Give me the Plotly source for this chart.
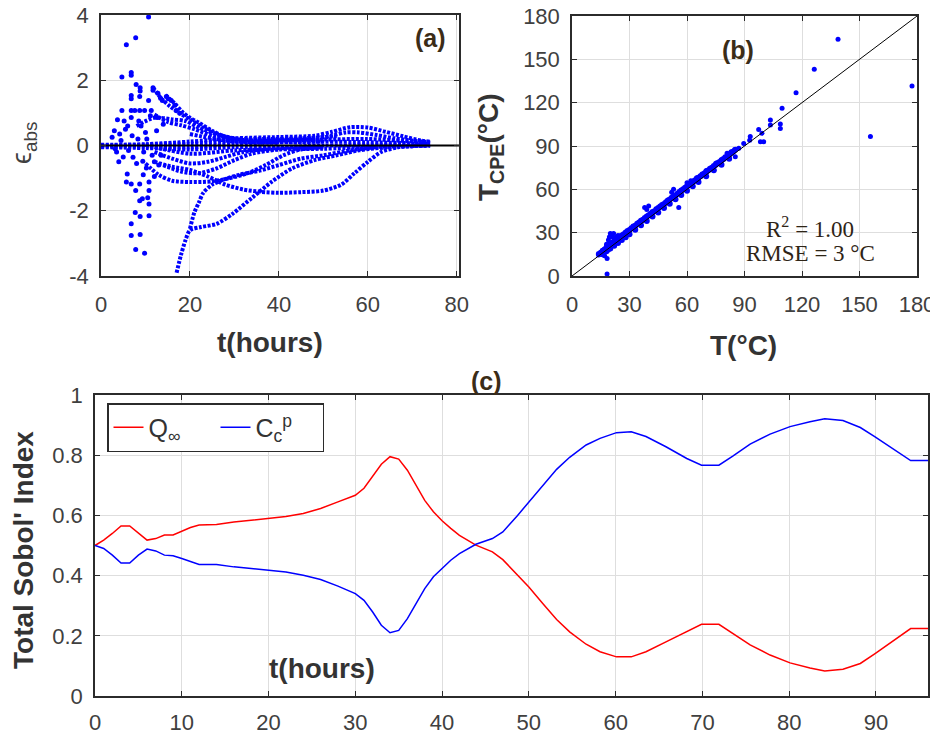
import plotly.graph_objects as go

# ---------------- data: panel (a) ----------------
early_t = [10.7, 5.7, 7.8, 4.7, 6.8, 6.8, 7.9, 8.8, 8.8, 6.8, 6.8, 8.7, 11.7, 11.7, 12.8, 10.7, 13.4, 13.8,
           14.7, 15.1, 15.8, 16.6, 16.9, 17.7, 4.7, 6.8, 7.6, 8.7, 3.7, 6.8, 9.8, 11.3, 11.1, 12.6,
           5.9, 5.7, 6.8, 8.7, 7.8, 10.8, 10.8, 10.8, 10.8, 9.3, 8.7, 7.7, 8.8, 6.8, 6.8, 8.8, 7.8, 9.8,
           10.5, 7.2, 9.4, 10.2, 2.5, 3.0, 3.5, 4.2, 5.0, 5.5, 6.2, 7.0, 8.0, 9.0, 10.0, 11.5, 12.5,
           4.0, 5.2, 9.5, 13.0, 14.0, 3.2, 4.5, 6.0, 8.3, 9.6, 12.0, 12.0, 13.5, 8.5, 10.3]
early_e = [3.94, 3.09, 3.30, 2.10, 2.24, 2.15, 1.87, 1.77, 1.67, 1.53, 1.43, 1.50, 1.77, 1.69, 1.60, 1.38, 1.45, 1.38,
           1.50, 1.43, 1.38, 1.23, 1.07, 0.99, 1.07, 1.07, 1.07, 1.07, 0.79, 0.86, 1.07, 1.07, 0.91, 0.86,
           -0.87, -1.12, -1.18, -1.18, -1.38, -1.12, -1.38, -1.79, -2.15, -1.63, -1.69, -2.05, -2.18, -2.40, -2.76, -2.73, -3.19, -3.30,
           -1.60, -0.36, -0.48, -0.69, 0.25, 0.45, -0.20, 0.35, -0.35, 0.50, -0.15, 0.30, -0.55, 0.60, 0.40, -0.30, 0.45,
           -0.50, 0.75, -0.90, -0.60, 0.65, -0.10, 0.15, 0.60, 0.20, -0.20, -0.95, -0.50, -0.30, 0.75, 0.20]

U1_t = [11.7, 13.5, 15.5, 17.8, 20, 23, 26, 30, 35, 45, 53]
U1_e = [1.78, 1.45, 1.2, 0.98, 0.8, 0.55, 0.35, 0.22, 0.2, 0.22, 0.28]
U2_t = [14.5, 16.5, 18.5, 20, 22, 25, 28, 32, 40, 48]
U2_e = [1.55, 1.3, 1.0, 0.85, 0.7, 0.45, 0.27, 0.17, 0.16, 0.2]
U3_t = [12, 15, 18, 21, 25, 30, 40, 50]
U3_e = [0.95, 0.72, 0.62, 0.5, 0.3, 0.15, 0.1, 0.12]
U4_t = [8, 12, 16, 19, 22, 27, 32, 40]
U4_e = [0.6, 0.85, 0.8, 0.75, 0.55, 0.3, 0.12, 0.08]

H1_t = [0, 10, 20, 30, 40, 48, 52, 56, 60, 64, 68, 72, 74]
H1_e = [0.02, 0.04, 0.12, 0.22, 0.26, 0.3, 0.42, 0.56, 0.55, 0.42, 0.28, 0.15, 0.12]
H2_t = [0, 10, 20, 30, 40, 48, 52, 55, 58, 62, 66, 70, 74]
H2_e = [0.0, 0.02, 0.05, 0.15, 0.2, 0.22, 0.3, 0.4, 0.4, 0.32, 0.22, 0.15, 0.1]
Z2_t = [0, 10, 20, 30, 40, 50, 60, 70, 74]
Z2_e = [-0.02, -0.04, -0.06, 0.05, 0.1, 0.12, 0.1, 0.07, 0.05]
Z3_t = [0, 10, 20, 30, 40, 50, 60, 70, 74]
Z3_e = [-0.05, -0.08, -0.12, -0.05, -0.05, 0.0, 0.0, 0.02, 0.02]
Z4_t = [10, 20, 30, 40, 50, 60, 70, 74]
Z4_e = [0.02, -0.25, -0.15, -0.12, -0.1, -0.05, -0.02, 0.0]
Z5_t = [20, 30, 40, 50, 60, 70, 74]
Z5_e = [0.35, 0.12, 0.15, 0.18, 0.2, 0.12, 0.08]

D_t = [12, 16, 20, 24, 28, 32, 36, 40, 45, 50, 54, 57, 60, 63, 67, 74]
D_e = [-0.5, -0.65, -0.75, -0.95, -1.2, -1.35, -1.42, -1.45, -1.43, -1.38, -1.2, -0.85, -0.5, -0.2, -0.05, 0.0]
F_t = [10, 13, 16, 20, 25, 29, 33, 37, 41, 45, 50]
F_e = [-0.55, -0.9, -1.08, -1.12, -1.1, -1.0, -0.85, -0.6, -0.3, -0.12, -0.05]
L3_t = [17, 18, 19, 20, 22.5, 26, 29.5, 34, 38.5, 43, 48, 53, 58, 65, 74]
L3_e = [-3.9, -3.35, -2.9, -2.6, -2.5, -2.4, -2.1, -1.6, -1.1, -0.7, -0.45, -0.3, -0.15, -0.05, 0.0]
L4_t = [20, 21, 22, 23, 25, 27.5, 31, 35.7, 40, 45, 50, 56, 62]
L4_e = [-2.55, -2.05, -1.75, -1.45, -1.2, -1.05, -0.9, -0.77, -0.6, -0.4, -0.3, -0.15, -0.05]
L5_t = [12, 16, 20, 24, 28, 32, 38, 45]
L5_e = [-0.2, -0.4, -0.55, -0.5, -0.35, -0.2, -0.1, -0.05]
L6_t = [14, 18, 22, 26, 30, 34, 40, 50]
L6_e = [-0.6, -0.8, -0.85, -0.7, -0.45, -0.25, -0.12, -0.05]

a_curves = [(U1_t, U1_e), (U2_t, U2_e), (U3_t, U3_e), (U4_t, U4_e), (H1_t, H1_e), (H2_t, H2_e),
            (Z2_t, Z2_e), (Z3_t, Z3_e), (Z4_t, Z4_e), (Z5_t, Z5_e), (D_t, D_e), (F_t, F_e),
            (L3_t, L3_e), (L4_t, L4_e), (L5_t, L5_e), (L6_t, L6_e)]
zero_t = [0, 80.5]
zero_e = [0, 0]

# ---------------- data: panel (b) ----------------
band_T = [14, 15, 16, 17, 18, 19, 20, 21, 22, 23, 24, 25, 26, 27, 28, 29, 30, 31, 32, 33, 34, 35, 36, 37,
          38, 39, 40, 41, 42, 43, 44, 45, 46, 47, 48, 49, 50, 51, 52, 53, 54, 55, 56, 57, 58, 59, 60, 61,
          62, 63, 64, 65, 66, 67, 68, 69, 70, 71, 72, 73, 74, 75, 76, 77, 78, 79, 80, 81, 82, 83, 84, 85]
band_C = [15.2, 16.1, 17.5, 18.3, 19.8, 21.0, 22.4, 23.1, 24.0, 25.2, 25.8, 27.1, 28.0, 28.9, 30.2, 31.1,
          31.8, 33.0, 34.2, 34.8, 36.1, 37.0, 38.2, 38.9, 40.1, 41.2, 42.0, 43.1, 44.3, 44.9, 46.2, 47.0,
          48.1, 49.2, 49.8, 51.1, 52.2, 53.0, 54.1, 55.2, 55.8, 57.0, 58.1, 59.2, 60.0, 61.1, 62.2, 63.0,
          64.1, 65.0, 66.2, 66.9, 68.1, 69.0, 70.2, 71.0, 72.1, 73.0, 74.2, 75.0, 76.1, 77.0, 78.2, 78.9,
          80.1, 81.0, 82.2, 82.8, 84.0, 85.1, 86.0, 87.2]
band2_T = [16, 18, 20, 22, 24, 26, 28, 30, 33, 36, 39, 42, 45, 48, 51, 54, 57, 60, 63, 66, 70, 74, 78, 82]
band2_C = [15.0, 17.2, 19.1, 21.0, 22.8, 24.9, 26.8, 28.9, 32.0, 35.1, 38.0, 41.2, 44.0, 47.1, 50.0, 53.2,
           56.1, 59.0, 62.2, 65.1, 69.0, 73.2, 77.0, 81.1]
out_T = [18, 19, 19.5, 20, 20.9, 21.7, 22, 23, 23.5, 24, 25, 19, 18, 17, 18.3, 18.3, 13.9, 15, 16,
         37.9, 40, 39, 55.7, 53, 52, 60, 62, 65, 70, 75, 78, 80.9, 85.2, 85.2, 83, 87, 89.6, 92.7, 93,
         97.4, 99.1, 98.3, 100, 103.5, 103.5, 108.7, 108.7, 109.6, 116.9, 126.4, 138.8, 155.7, 177.4]
out_C = [22, 25, 27, 29.5, 27.2, 29.5, 26, 27, 26, 28, 27.5, 18, 20, 14, 12.2, 1.4, 14.5, 16, 15,
         47.5, 48.5, 46, 47.5, 60, 58, 64.6, 66, 68, 73, 78, 80.5, 84.9, 87.7, 82.6, 86, 88.5, 91.8, 94, 96.5,
         101.5, 98.8, 93, 93, 104.5, 108, 105.2, 102.2, 116.1, 126.9, 143.1, 163.9, 96.5, 131.5]
diag = [0, 180]

# ---------------- data: panel (c) ----------------
c_t = [0, 1, 2, 3, 4, 5, 6, 7, 8, 9, 10, 11, 12, 14, 16, 18, 20, 22, 24, 26, 28, 30, 31, 32, 33, 34, 35,
       36, 37, 38, 39, 40, 41, 42, 43.9, 45.8, 47, 48.7, 50, 51.6, 53.2, 54.7, 56.6, 58.2, 60.1, 61.8,
       63.5, 65.8, 68.2, 69.9, 71.9, 73.5, 75.5, 77.8, 80.1, 82.4, 84.1, 86.2, 88.2, 89.9, 92, 94, 96]
q_inf = [0.5, 0.518, 0.54, 0.565, 0.565, 0.54, 0.518, 0.523, 0.535, 0.535, 0.548, 0.56, 0.568, 0.57,
         0.578, 0.584, 0.588, 0.596, 0.606, 0.623, 0.645, 0.667, 0.69, 0.728, 0.77, 0.795, 0.787, 0.75,
         0.70, 0.65, 0.612, 0.582, 0.557, 0.534, 0.501, 0.479, 0.453, 0.401, 0.362, 0.307, 0.254, 0.213,
         0.172, 0.147, 0.13, 0.13, 0.147, 0.18, 0.213, 0.238, 0.238, 0.208, 0.17, 0.136, 0.11, 0.093,
         0.083, 0.089, 0.108, 0.141, 0.183, 0.224, 0.224]
c_cp = [0.5, 0.49, 0.468, 0.442, 0.442, 0.468, 0.488, 0.482, 0.468, 0.466, 0.457, 0.446, 0.437, 0.437,
        0.429, 0.424, 0.418, 0.412, 0.401, 0.387, 0.365, 0.34, 0.318, 0.279, 0.235, 0.21, 0.218, 0.257,
        0.307, 0.357, 0.396, 0.424, 0.451, 0.473, 0.504, 0.523, 0.545, 0.6, 0.645, 0.7, 0.753, 0.793,
        0.834, 0.856, 0.875, 0.878, 0.862, 0.828, 0.789, 0.767, 0.767, 0.797, 0.837, 0.87, 0.895, 0.911,
        0.921, 0.915, 0.892, 0.861, 0.819, 0.782, 0.782]

a_xticks = [0, 20, 40, 60, 80]
a_yticks = [-4, -2, 0, 2, 4]
a_ytext = ["-4", "-2", "0", "2", "4"]
b_ticks = [0, 30, 60, 90, 120, 150, 180]
c_xticks = [0, 10, 20, 30, 40, 50, 60, 70, 80, 90]
c_yticks = [0, 0.2, 0.4, 0.6, 0.8, 1]

# ---------------- figure ----------------
# the page has an 8px body margin, so the figure is 8px smaller and offset
OFF = 8
W, H = 938 - OFF, 736 - OFF
def px(x):
    return (x - OFF) / W
def py(y):
    return 1 - (y - OFF) / H

BLUE = "#0000ff"
fig = go.Figure()

for tt, ee in a_curves:
    fig.add_trace(go.Scatter(x=tt, y=ee, mode="lines", xaxis="x", yaxis="y", showlegend=False,
                             line=dict(color=BLUE, width=4, dash="3px,1.5px", shape="spline", smoothing=0.8)))
fig.add_trace(go.Scatter(x=early_t, y=early_e, mode="markers", xaxis="x", yaxis="y", showlegend=False,
                         marker=dict(color=BLUE, size=5)))
fig.add_trace(go.Scatter(x=zero_t, y=zero_e, mode="lines", xaxis="x", yaxis="y", showlegend=False,
                         line=dict(color="black", width=2)))

fig.add_trace(go.Scatter(x=band_T, y=band_C, mode="markers", xaxis="x2", yaxis="y2", showlegend=False,
                         marker=dict(color=BLUE, size=6)))
fig.add_trace(go.Scatter(x=band2_T, y=band2_C, mode="markers", xaxis="x2", yaxis="y2", showlegend=False,
                         marker=dict(color=BLUE, size=6)))
fig.add_trace(go.Scatter(x=out_T, y=out_C, mode="markers", xaxis="x2", yaxis="y2", showlegend=False,
                         marker=dict(color=BLUE, size=5)))
fig.add_trace(go.Scatter(x=diag, y=diag, mode="lines", xaxis="x2", yaxis="y2", showlegend=False,
                         line=dict(color="black", width=1)))

fig.add_trace(go.Scatter(x=c_t, y=q_inf, mode="lines", xaxis="x3", yaxis="y3", name="Q<sub>∞</sub>",
                         line=dict(color="#ff0000", width=1.5)))
fig.add_trace(go.Scatter(x=c_t, y=c_cp, mode="lines", xaxis="x3", yaxis="y3", name="C<sub>c</sub><sup>p</sup>",
                         line=dict(color=BLUE, width=1.5)))

TICKFONT = dict(family="Liberation Sans, Arial", size=22, color="#404040")
def axstyle(**kw):
    d = dict(showline=True, linecolor="#2b2b2b", linewidth=1.5, mirror="ticks", ticks="inside", ticklen=5,
             tickcolor="#2b2b2b", tickwidth=1, showgrid=True, gridcolor="#dedede", gridwidth=1,
             zeroline=False, tickfont=TICKFONT, automargin=False, ticklabeloverflow="allow")
    d.update(kw)
    return d

fig.update_layout(
    width=W, height=H, margin=dict(l=0, r=0, t=0, b=0, autoexpand=False),
    paper_bgcolor="white", plot_bgcolor="white",
    xaxis=axstyle(domain=[px(101), px(459)], range=[0, 80.5], tickvals=a_xticks, anchor="y", ticklabelstandoff=8),
    yaxis=axstyle(domain=[py(276), py(15)], range=[-4, 4], tickvals=a_yticks, ticktext=a_ytext, anchor="x", ticklabelstandoff=6),
    xaxis2=axstyle(domain=[px(572), px(917)], range=[0, 180], tickvals=b_ticks, anchor="y2", ticklabelstandoff=8),
    yaxis2=axstyle(domain=[py(276), py(16)], range=[0, 180], tickvals=b_ticks, anchor="x2", ticklabelstandoff=6),
    xaxis3=axstyle(domain=[px(95), px(928)], range=[0, 96], tickvals=c_xticks, anchor="y3", ticklabelstandoff=6),
    yaxis3=axstyle(domain=[py(696), py(395)], range=[0, 1], tickvals=c_yticks, anchor="x3", ticklabelstandoff=6),
    legend=dict(orientation="h", x=px(107), y=py(403), xanchor="left", yanchor="top",
                bgcolor="white", bordercolor="#2b2b2b", borderwidth=1.5, entrywidth=62, entrywidthmode="pixels",
                font=dict(family="Liberation Sans, Arial", size=25, color="#333333")),
)

# white boxes behind in-plot labels (interrupting gridlines)
for (x0, x1, y0, y1) in [(695, 783, 17, 72), (708, 907, 213, 274), (262, 388, 648, 694)]:
    fig.add_shape(type="rect", xref="paper", yref="paper", x0=px(x0), x1=px(x1), y0=py(y1), y1=py(y0),
                  fillcolor="white", line=dict(width=0), layer="between")

LAB = "#3b2c17"
def ann(text, x, y, size, bold=True, color="#333333", angle=0, family="Liberation Sans, Arial"):
    fig.add_annotation(text=(f"<b>{text}</b>" if bold else text), x=px(x), y=py(y), xref="paper", yref="paper",
                       xanchor="center", yanchor="middle", showarrow=False, textangle=angle,
                       font=dict(family=family, size=size, color=color))

ann("(a)", 430, 38, 25, color=LAB)
ann("(b)", 738, 50, 25, color=LAB)
ann("(c)", 487, 381, 25, color=LAB)
ann("t(hours)", 270, 343, 28)
ann("T(°C)", 743, 345, 28)
ann("t(hours)", 322, 668, 28)
ann("Total Sobol' Index", 23, 550, 28, angle=-90)
ann("T<sub>CPE</sub>(°C)", 490, 148, 28, angle=-90)
ann("ϵ<sub>abs</sub>", 24, 143, 27, bold=False, color="#404040", angle=-90)
ann("R<sup>2</sup> = 1.00", 810, 227, 23, bold=False, color="#2e2416", family="Liberation Serif, Times New Roman")
ann("RMSE = 3 °C", 810, 253, 23, bold=False, color="#2e2416", family="Liberation Serif, Times New Roman")

fig.write_html("out.html")
